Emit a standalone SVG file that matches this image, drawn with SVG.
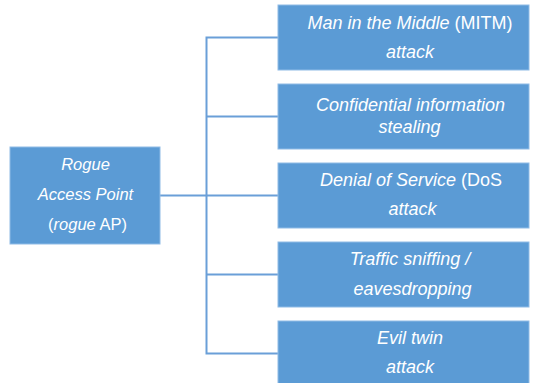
<svg xmlns="http://www.w3.org/2000/svg" width="534" height="383" viewBox="0 0 534 383">
<style>
.box{fill:#5B9BD5;stroke:#8fbbe6;stroke-width:1}
.t{font-family:"Liberation Sans",Arial,sans-serif;font-size:18px;fill:#ffffff;text-anchor:middle}
.ts{font-size:16.5px}
.i{font-style:italic}
.con{fill:none;stroke:#6a9fd8;stroke-width:2}
</style>
<rect width="534" height="383" fill="#ffffff"/>
<g id="connectors">
<path class="con" d="M160 195.5 H206.5 M206.5 37.5 V353.5 M205.5 37.5 H278 M206.5 116.5 H278 M206.5 195.5 H278 M206.5 274.5 H278 M205.5 353.5 H278"/>
</g>
<g id="rogue-ap">
<rect class="box" x="10" y="147" width="150" height="97"/>
<text class="t ts" x="85.5" y="170"><tspan class="i">Rogue</tspan></text>
<text class="t ts" x="85.5" y="200"><tspan class="i">Access Point</tspan></text>
<text class="t ts" x="87.5" y="230">(<tspan class="i">rogue</tspan> AP)</text>
</g>
<g id="mitm">
<rect class="box" x="278" y="5" width="251" height="65"/>
<text class="t" x="410" y="29"><tspan class="i">Man in the Middle</tspan> (MITM)</text>
<text class="t i" x="410" y="58">attack</text>
</g>
<g id="confidential">
<rect class="box" x="278" y="84" width="251" height="65"/>
<text class="t i" x="410.5" y="111">Confidential information</text>
<text class="t i" x="409.5" y="132.5">stealing</text>
</g>
<g id="dos">
<rect class="box" x="278" y="163" width="251" height="65"/>
<text class="t" x="411" y="186"><tspan class="i">Denial of Service</tspan> (DoS</text>
<text class="t i" x="412.5" y="215">attack</text>
</g>
<g id="sniffing">
<rect class="box" x="278" y="242" width="251" height="65"/>
<text class="t i" x="410" y="265">Traffic sniffing /</text>
<text class="t i" x="412.5" y="294.5">eavesdropping</text>
</g>
<g id="evil-twin">
<rect class="box" x="278" y="321" width="251" height="65"/>
<text class="t i" x="410" y="343.5">Evil twin</text>
<text class="t i" x="410" y="372.5">attack</text>
</g>
</svg>
